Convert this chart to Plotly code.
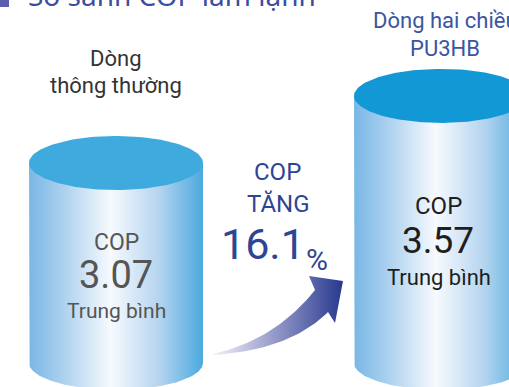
import numpy as np
import plotly.graph_objects as go

# --- data -------------------------------------------------------------
series_names = ["Dòng\nthông thường", "Dòng hai chiều\nPU3HB"]
cop_values = [3.07, 3.57]
cop_label = "COP"
avg_label = "Trung bình"
increase_lines = ["COP", "TĂNG"]
increase_pct = "16.1"
title_text = "So sánh COP làm lạnh"

# --- canvas -----------------------------------------------------------
W, H = 509, 387
COP_FLOOR = 1.58            # value at which the cylinders start
Y_LO, Y_HI = 1.40, 4.285    # COP-unit y range of the canvas
PX_PER_UNIT = H / (Y_HI - Y_LO)

CX = [116, 441]             # cylinder centres (x pixels)
RX = 87                     # cylinder half width
RY = 27 / PX_PER_UNIT       # ellipse half height in COP units

TOP_COLORS = ["#3EAADD", "#1298D4"]
SIDE_SCALE = [
    [0.0, "#79B7E5"], [0.2, "#ADD1EF"], [0.47, "#F7FAFE"],
    [0.75, "#B4D4EF"], [1.0, "#4BA9DF"],
]


def px_to_paper(x, y):
    return x / W, 1 - y / H


fig = go.Figure()

th = np.linspace(0, np.pi, 80)
full = np.linspace(0, 2 * np.pi, 160)
for cx, val, top_c in zip(CX, cop_values, TOP_COLORS):
    # body: straight sides with the lower half of the base ellipse
    xs = [cx - RX, cx - RX] + list(cx - RX * np.cos(th)) + [cx + RX, cx + RX]
    ys = [val, COP_FLOOR] + list(COP_FLOOR - RY * np.sin(th)) + [COP_FLOOR, val]
    fig.add_trace(go.Scatter(
        x=xs, y=ys, mode="lines", fill="toself",
        line=dict(width=0, color="rgba(0,0,0,0)"),
        fillgradient=dict(type="horizontal", colorscale=SIDE_SCALE),
        hoverinfo="skip", showlegend=False,
    ))
    # lid
    fig.add_trace(go.Scatter(
        x=cx + RX * np.cos(full), y=val + RY * np.sin(full),
        mode="lines", fill="toself", fillcolor=top_c,
        line=dict(width=0, color=top_c),
        hoverinfo="skip", showlegend=False,
    ))


# curved arrow between the cylinders (pixel coordinates on yaxis2)
def qbez(p0, c, p2, n=40):
    t = np.linspace(0, 1, n)[:, None]
    p0, c, p2 = map(np.array, (p0, c, p2))
    return (1 - t) ** 2 * p0 + 2 * (1 - t) * t * c + t ** 2 * p2

upper = qbez((213, 354), (275, 340), (315, 290))
lower = qbez((213, 355), (290, 350), (328, 312))
head = np.array([(309, 276), (343, 281), (335, 323)])
arrow = np.vstack([upper, head[:1], head[1:2], head[2:3], lower[::-1]])
fig.add_trace(go.Scatter(
    x=arrow[:, 0], y=arrow[:, 1], yaxis="y2", mode="lines", fill="toself",
    line=dict(width=0, color="rgba(0,0,0,0)"),
    fillgradient=dict(type="horizontal", colorscale=[
        [0.0, "#F2F2F9"], [0.35, "#AEB1D6"], [1.0, "#27398E"]]),
    hoverinfo="skip", showlegend=False,
))

FONT = "Roboto"


def label(text, x, y, size, color, family=FONT, xanchor="center", weight=400):
    px, py = px_to_paper(x, y)
    fig.add_annotation(
        text=text, x=px, y=py, xref="paper", yref="paper",
        xanchor=xanchor, yanchor="middle", showarrow=False,
        font=dict(family=family, size=size, color=color, weight=weight),
    )


# heading (partly above the canvas)
label(title_text, 26, -5, 28, "#3A4DA0", family="Noto Sans", xanchor="left")
fig.add_shape(type="rect", xref="paper", yref="paper",
              x0=0, x1=9 / W, y0=1 - 7 / H, y1=1.05,
              fillcolor="#5B5EAE", line=dict(width=0))

# series names
left_name = series_names[0].split("\n")
right_name = series_names[1].split("\n")
label(left_name[0], 116, 58, 22, "#333333")
label(left_name[1], 116, 85, 22, "#333333")
label(right_name[0], 371, 21, 22, "#3B55A3", xanchor="left")
label(right_name[1], 445, 48, 22, "#3B55A3")

# values inside cylinders
TXT_L, TXT_R = "#555555", "#1E1E1E"
label(cop_label, 116, 242, 23, TXT_L)
label(f"{cop_values[0]:.2f}", 116, 275, 38, TXT_L)
label(avg_label, 116, 311, 21, TXT_L)

label(cop_label, 438, 206, 24, TXT_R)
label(f"{cop_values[1]:.2f}", 438, 241, 37, TXT_R)
label(avg_label, 439, 277, 22, TXT_R)

# increase callout
BLUE = "#2E4595"
label(increase_lines[0], 277, 172, 24, BLUE)
label(increase_lines[1], 278, 204, 24, BLUE)
label(increase_pct, 263, 244, 43, BLUE)
label("%", 317, 259, 30, BLUE)

fig.update_layout(
    width=W, height=H, margin=dict(l=0, r=0, t=0, b=0),
    paper_bgcolor="white", plot_bgcolor="white",
    xaxis=dict(range=[0, W], visible=False, fixedrange=True),
    yaxis=dict(range=[Y_LO, Y_HI], visible=False, fixedrange=True),
    yaxis2=dict(range=[H, 0], overlaying="y", visible=False, fixedrange=True),
    showlegend=False,
)

fig.write_html("out.html")
